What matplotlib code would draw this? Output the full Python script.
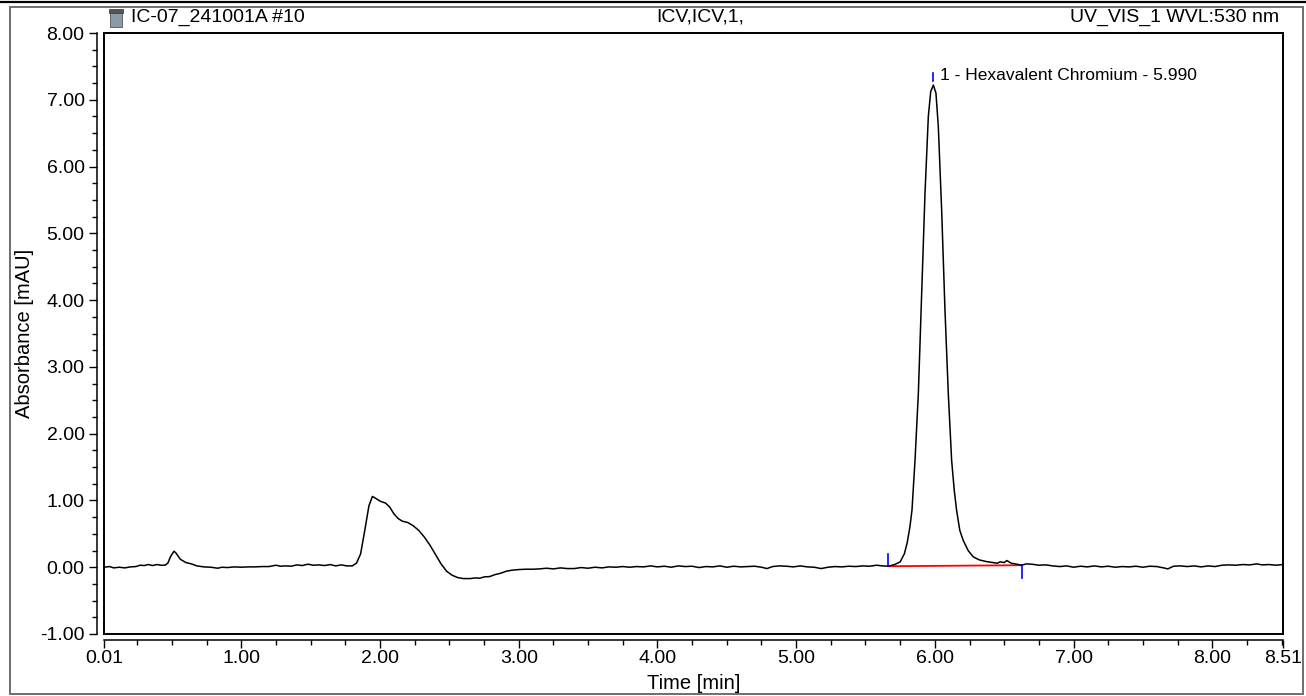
import matplotlib
matplotlib.use('Agg')
import matplotlib.pyplot as plt
from matplotlib.patches import Rectangle
from matplotlib.lines import Line2D
from matplotlib.ticker import FixedLocator, MultipleLocator

plt.rcParams['font.family'] = ['Liberation Sans', 'DejaVu Sans']

# chromatogram trace
time_min = [
    0.01, 0.05, 0.08, 0.12, 0.16, 0.20, 0.24, 0.27, 0.30, 0.33, 0.36, 0.39, 0.42, 0.45,
    0.47, 0.49, 0.515, 0.53, 0.56, 0.60, 0.64, 0.68, 0.73, 0.78, 0.83, 0.86, 0.90, 0.95,
    1.00, 1.05, 1.10, 1.15, 1.20, 1.25, 1.28, 1.32, 1.36, 1.40, 1.44, 1.48, 1.52, 1.56,
    1.60, 1.64, 1.68, 1.72, 1.76, 1.80, 1.83, 1.86, 1.89, 1.92, 1.945, 1.97, 2.00, 2.04,
    2.07, 2.10, 2.13, 2.16, 2.20, 2.24, 2.28, 2.32, 2.36, 2.40, 2.44, 2.48, 2.52, 2.56,
    2.60, 2.65, 2.69, 2.72, 2.75, 2.79, 2.83, 2.87, 2.91, 2.95, 3.00, 3.05, 3.10, 3.15,
    3.20, 3.25, 3.30, 3.35, 3.40, 3.45, 3.50, 3.55, 3.60, 3.65, 3.70, 3.75, 3.80, 3.85,
    3.90, 3.95, 4.00, 4.05, 4.10, 4.15, 4.20, 4.25, 4.30, 4.35, 4.40, 4.45, 4.50, 4.55,
    4.60, 4.65, 4.70, 4.75, 4.79, 4.83, 4.88, 4.93, 4.98, 5.03, 5.08, 5.13, 5.18, 5.23,
    5.28, 5.33, 5.38, 5.43, 5.48, 5.53, 5.58, 5.62, 5.665, 5.71, 5.75, 5.78, 5.80, 5.82,
    5.835, 5.857, 5.881, 5.905, 5.929, 5.953, 5.97, 5.989, 6.008, 6.025, 6.049, 6.073,
    6.097, 6.121, 6.14, 6.157, 6.18, 6.205, 6.24, 6.277, 6.32, 6.37, 6.42, 6.45, 6.47,
    6.50, 6.52, 6.55, 6.58, 6.626, 6.66, 6.70, 6.75, 6.80, 6.85, 6.90, 6.95, 7.00, 7.05,
    7.10, 7.15, 7.20, 7.25, 7.30, 7.35, 7.40, 7.45, 7.50, 7.55, 7.60, 7.65, 7.68, 7.72,
    7.77, 7.82, 7.87, 7.92, 7.97, 8.02, 8.07, 8.12, 8.17, 8.22, 8.27, 8.32, 8.36, 8.41,
    8.46, 8.51,
]
absorbance = [
    0.0, 0.01, -0.01, 0.0, -0.01, 0.005, 0.01, 0.03, 0.025, 0.04, 0.025, 0.04, 0.03, 0.03,
    0.06, 0.16, 0.24, 0.21, 0.12, 0.07, 0.05, 0.02, 0.005, 0.0, -0.015, 0.0, -0.005, 0.005,
    0.0, 0.005, 0.005, 0.01, 0.01, 0.03, 0.015, 0.02, 0.015, 0.035, 0.025, 0.045, 0.03, 0.035,
    0.025, 0.04, 0.02, 0.035, 0.02, 0.02, 0.06, 0.2, 0.55, 0.92, 1.06, 1.03, 0.99, 0.96,
    0.90, 0.80, 0.73, 0.69, 0.67, 0.62, 0.55, 0.45, 0.33, 0.19, 0.05, -0.06, -0.12, -0.155,
    -0.17, -0.17, -0.16, -0.165, -0.145, -0.14, -0.11, -0.09, -0.06, -0.045, -0.035, -0.03, -0.03, -0.025,
    -0.015, -0.025, -0.01, -0.02, -0.02, -0.005, -0.015, 0.0, -0.01, 0.005, 0.0, 0.01, 0.0, 0.01,
    0.005, 0.02, 0.005, 0.015, 0.0, 0.02, 0.01, 0.015, -0.005, 0.01, 0.005, 0.02, 0.0, 0.015,
    0.005, 0.01, 0.015, 0.0, -0.02, 0.01, 0.02, 0.015, 0.005, 0.02, 0.005, 0.0, -0.02, 0.0,
    0.01, 0.005, 0.015, 0.01, 0.02, 0.015, 0.03, 0.02, 0.015, 0.04, 0.08, 0.2, 0.36, 0.6,
    0.85, 1.60, 2.60, 4.10, 5.60, 6.75, 7.12, 7.22, 7.10, 6.60, 5.35, 3.85,
    2.60, 1.60, 1.15, 0.85, 0.55, 0.40, 0.25, 0.155, 0.11, 0.085, 0.07, 0.06, 0.08,
    0.07, 0.10, 0.06, 0.05, 0.03, 0.05, 0.045, 0.03, 0.035, 0.02, 0.01, 0.02, 0.0, 0.015,
    0.005, 0.02, 0.005, 0.015, 0.0, 0.01, 0.005, 0.015, 0.0, 0.015, 0.01, -0.01, -0.025, 0.015,
    0.02, 0.01, 0.02, 0.005, 0.02, 0.01, 0.03, 0.035, 0.03, 0.04, 0.035, 0.05, 0.035, 0.04,
    0.03, 0.04,
]

# integrated peak
peak_name = '1 - Hexavalent Chromium - 5.990'
peak_rt = 5.99
peak_top = 7.22
peak_start = (5.665, 0.015)
peak_end = (6.626, 0.03)

x_major = [0.01, 1.00, 2.00, 3.00, 4.00, 5.00, 6.00, 7.00, 8.00, 8.51]
x_labels = ['0.01', '1.00', '2.00', '3.00', '4.00', '5.00', '6.00', '7.00', '8.00', '8.51']
y_major = [-1.0, 0.0, 1.0, 2.0, 3.0, 4.0, 5.0, 6.0, 7.0, 8.0]

fig = plt.figure(figsize=(13.06, 6.96), dpi=100)
ax = fig.add_axes([104 / 1306, 1 - 634 / 696, 1179 / 1306, 601 / 696])

ax.plot(time_min, absorbance, color='black', lw=1.1, zorder=3)

# baseline + peak markers
ax.plot([peak_start[0], peak_end[0]], [peak_start[1], peak_end[1]], color='#ff0000', lw=1.3, zorder=2)
ax.plot([peak_start[0], peak_start[0]], [peak_start[1], peak_start[1] + 0.18], color='#0000ff', lw=1.2, zorder=4)
ax.plot([peak_end[0], peak_end[0]], [peak_end[1], peak_end[1] - 0.19], color='#0000ff', lw=1.2, zorder=4)
ax.plot([peak_rt, peak_rt], [peak_top + 0.06, peak_top + 0.18], color='#0000ff', lw=1.2, zorder=4)
ax.text(peak_rt + 0.05, peak_top + 0.15, peak_name, fontsize=12.5, va='center', ha='left')

ax.set_xlim(0.01, 8.51)
ax.set_ylim(-1.0, 8.0)

ax.xaxis.set_major_locator(FixedLocator(x_major))
ax.set_xticklabels(x_labels)
ax.xaxis.set_minor_locator(MultipleLocator(0.25))
ax.yaxis.set_major_locator(FixedLocator(y_major))
ax.set_yticklabels(['%.2f' % v for v in y_major])
ax.yaxis.set_minor_locator(MultipleLocator(0.25))

# box frame plus detached axis lines
ax.patch.set_edgecolor('black')
ax.patch.set_linewidth(1.4)
ax.spines['left'].set_position(('outward', 5))
ax.spines['bottom'].set_position(('outward', 4.5))
for s in ['left', 'bottom', 'top', 'right']:
    ax.spines[s].set_linewidth(1.1)
ax.tick_params(which='major', length=6, width=1.0, labelsize=14, pad=3)
ax.tick_params(axis='x', which='major', pad=1)
ax.tick_params(which='minor', length=3.5, width=1.0)

ax.set_xlabel('Time [min]', fontsize=14.5, labelpad=5)
ax.set_ylabel('Absorbance [mAU]', fontsize=14.5, labelpad=4)

# header texts
fig.text(131 / 1306, 1 - 17 / 696, 'IC-07_241001A #10', fontsize=14, va='center', ha='left')
fig.text(700 / 1306, 1 - 17 / 696, 'ICV,ICV,1,', fontsize=14, va='center', ha='center')
fig.text(1279 / 1306, 1 - 17 / 696, 'UV_VIS_1 WVL:530 nm', fontsize=14, va='center', ha='right')

# vial icon
fig.patches.append(Rectangle((110 / 1306, 1 - 27 / 696), 12 / 1306, 14 / 696, transform=fig.transFigure,
                             facecolor='#8a9aa8', edgecolor='#555555', lw=0.6))
fig.patches.append(Rectangle((109 / 1306, 1 - 13 / 696), 14 / 1306, 4 / 696, transform=fig.transFigure,
                             facecolor='#555555', edgecolor='#444444', lw=0.6))

# outer window frame
fig.lines.append(Line2D([0, 1], [1 - 2 / 696, 1 - 2 / 696], transform=fig.transFigure, color='black', lw=1.6))
fig.patches.append(Rectangle((10 / 1306, 2 / 696), 1293 / 1306, 687 / 696, transform=fig.transFigure,
                             fill=False, edgecolor='#6e6e6e', lw=1.4))

fig.savefig('out.png', dpi=100)
